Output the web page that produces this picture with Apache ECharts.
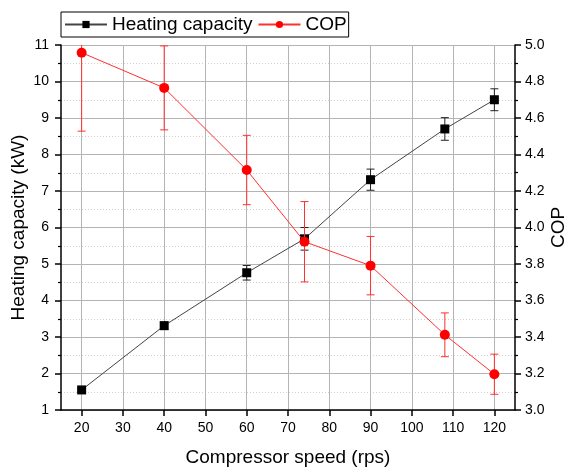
<!DOCTYPE html>
<html>
<head>
<meta charset="utf-8">
<script src="https://cdn.jsdelivr.net/npm/echarts@6/dist/echarts.min.js"></script>
<style>
html,body{margin:0;padding:0;background:#fff;}
#chart{width:568px;height:472px;}
</style>
</head>
<body>
<div id="chart"></div>
<script>
// ---- data ----
const speed = [20, 40, 60, 74, 90, 108, 120];
const heating = [1.55, 3.31, 4.76, 5.69, 7.31, 8.70, 9.50];
const heatingErr = [0.04, 0.10, 0.20, 0.31, 0.29, 0.31, 0.30];
const cop = [4.958, 4.765, 4.315, 3.922, 3.791, 3.412, 3.196];
const copErr = [0.43, 0.23, 0.19, 0.22, 0.16, 0.12, 0.11];
const xTicks = [20, 30, 40, 50, 60, 70, 80, 90, 100, 110, 120];
const seriesNames = ['Heating capacity', 'COP'];

const FONT = 'Liberation Sans, Arial, sans-serif';

function pairs(xs, ys) { return xs.map((x, i) => [x, ys[i]]); }
function errData(xs, ys, es) { return xs.map((x, i) => [x, ys[i] - es[i], ys[i] + es[i]]); }

function makeErrRender(color) {
  return function (params, api) {
    const x = api.value(0), lo = api.value(1), hi = api.value(2);
    const pLo = api.coord([x, lo]);
    const pHi = api.coord([x, hi]);
    const hw = 4;
    const style = { stroke: color, lineWidth: 1, fill: null };
    return {
      type: 'group',
      children: [
        { type: 'line', shape: { x1: pLo[0], y1: pLo[1], x2: pHi[0], y2: pHi[1] }, style: style },
        { type: 'line', shape: { x1: pLo[0] - hw, y1: pLo[1], x2: pLo[0] + hw, y2: pLo[1] }, style: style },
        { type: 'line', shape: { x1: pHi[0] - hw, y1: pHi[1], x2: pHi[0] + hw, y2: pHi[1] }, style: style }
      ]
    };
  };
}

const chart = echarts.init(document.getElementById('chart'), null, { renderer: 'canvas' });

const axisLineStyle = { color: '#000', width: 1.5 };

chart.setOption({
  animation: false,
  backgroundColor: '#fff',
  textStyle: { fontFamily: FONT },
  grid: { left: 61, right: 53, top: 45, bottom: 62, containLabel: false, outerBoundsMode: 'none' },
  legend: {
    data: seriesNames,
    left: 61, top: 12,
    padding: [3, 2, 3, 3],
    itemGap: 5,
    itemWidth: 42,
    itemHeight: 9,
    borderColor: '#000',
    borderWidth: 1,
    borderRadius: 0,
    backgroundColor: '#fff',
    textStyle: { fontSize: 19, fontFamily: FONT, color: '#000' }
  },
  xAxis: {
    type: 'value',
    min: 15, max: 125,
    name: 'Compressor speed (rps)',
    nameLocation: 'middle',
    nameMoveOverlap: false,
    nameGap: 38,
    nameTextStyle: { fontSize: 19, fontFamily: FONT, color: '#000' },
    axisLine: { show: true, onZero: false, lineStyle: axisLineStyle },
    axisTick: { show: true, length: 6, customValues: xTicks, lineStyle: { color: '#000', width: 1.5 } },
    axisLabel: { customValues: xTicks, fontSize: 14, color: '#000', margin: 11, fontFamily: FONT },
    splitLine: { show: true, lineStyle: { color: '#b4b4b4', width: 1 } }
  },
  yAxis: [
    {
      type: 'value',
      min: 1, max: 11, interval: 1,
      position: 'left',
      name: 'Heating capacity (kW)',
      nameLocation: 'middle',
      nameMoveOverlap: false,
      nameRotate: 90,
      nameGap: 33,
      nameTextStyle: { fontSize: 19, fontFamily: FONT, color: '#000' },
      axisLine: { show: true, onZero: false, lineStyle: axisLineStyle },
      axisTick: { show: true, length: 6, lineStyle: { color: '#000', width: 1.5 } },
      minorTick: { show: true, splitNumber: 2, length: 3, lineStyle: { color: '#000', width: 1.2 } },
      axisLabel: { fontSize: 14, color: '#000', margin: 12, fontFamily: FONT },
      splitLine: { show: true, lineStyle: { color: '#b4b4b4', width: 1 } },
      minorSplitLine: { show: true, lineStyle: { color: '#cfcfcf', width: 1, type: [1, 2] } }
    },
    {
      type: 'value',
      min: 3, max: 5, interval: 0.2,
      position: 'right',
      name: 'COP',
      nameLocation: 'middle',
      nameMoveOverlap: false,
      nameRotate: 90,
      nameGap: 34,
      nameTextStyle: { fontSize: 19, fontFamily: FONT, color: '#000' },
      axisLine: { show: true, onZero: false, lineStyle: axisLineStyle },
      axisTick: { show: true, length: 6, lineStyle: { color: '#000', width: 1.5 } },
      minorTick: { show: true, splitNumber: 2, length: 3, lineStyle: { color: '#000', width: 1.2 } },
      axisLabel: { fontSize: 14, color: '#000', margin: 10, fontFamily: FONT, formatter: v => v.toFixed(1) },
      splitLine: { show: false }
    }
  ],
  series: [
    {
      name: 'Heating capacity err',
      type: 'custom',
      xAxisIndex: 0, yAxisIndex: 0,
      clip: true,
      renderItem: makeErrRender('#222'),
      encode: { x: 0, y: [1, 2] },
      data: errData(speed, heating, heatingErr),
      z: 2
    },
    {
      name: 'Heating capacity',
      type: 'line',
      yAxisIndex: 0,
      data: pairs(speed, heating),
      symbol: 'rect',
      symbolSize: 9,
      showAllSymbol: true,
      lineStyle: { color: '#444', width: 1 },
      itemStyle: { color: '#000' },
      z: 3
    },
    {
      name: 'COP err',
      type: 'custom',
      xAxisIndex: 0, yAxisIndex: 1,
      clip: true,
      renderItem: makeErrRender('#ff3030'),
      encode: { x: 0, y: [1, 2] },
      data: errData(speed, cop, copErr),
      z: 4
    },
    {
      name: 'COP',
      type: 'line',
      yAxisIndex: 1,
      data: pairs(speed, cop),
      symbol: 'circle',
      symbolSize: 10,
      showAllSymbol: true,
      lineStyle: { color: '#ff3030', width: 1 },
      itemStyle: { color: '#ff0000' },
      z: 5
    }
  ]
});
</script>
</body>
</html>
